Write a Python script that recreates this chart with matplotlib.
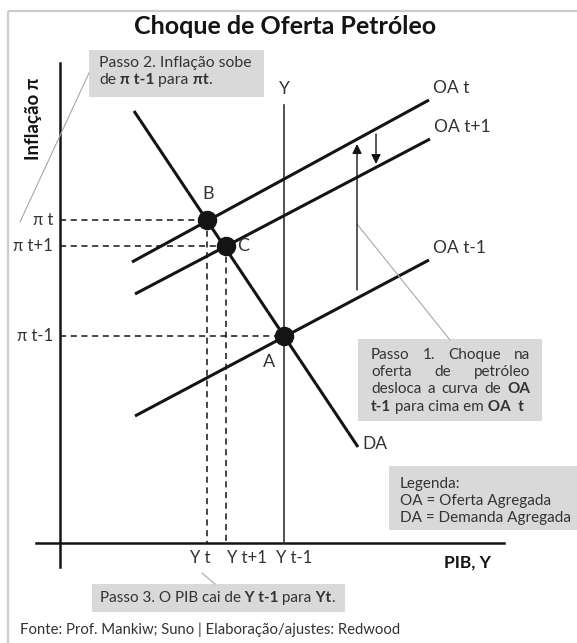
import matplotlib
matplotlib.use("Agg")
import matplotlib.pyplot as plt
from matplotlib.patches import Rectangle
from matplotlib.offsetbox import TextArea, HPacker, VPacker, AnnotationBbox

plt.rcParams['font.family'] = ['Lato', 'DejaVu Sans']

INK = '#141414'
TXT = '#333333'
BOX = '#d9d9d9'
LEAD = '#a8a8a8'

# diagram units: pixels measured from the bottom-left corner of the picture
output_labels = ['Y t', 'Y t+1', 'Y t-1']
output_levels = [207, 226, 284]
inflation_labels = ['π t', 'π t+1', 'π t-1']
inflation_levels = [423, 397, 307]
point_names = ['B', 'C', 'A']

da_x = [134, 358]
da_y = [532, 196]

oa_names = ['OA t', 'OA t+1', 'OA t-1']
oa_x = [[132, 429], [135, 430], [135, 429]]
oa_y = [[381, 543], [349, 504], [227, 383]]

x_axis_level = 100


def rich_line(parts, size, width=None):
    areas = [TextArea(t, textprops=dict(fontsize=size, color=TXT,
                                        fontweight='bold' if b else 'normal'))
             for t, b in parts]
    if width:
        return HPacker(children=areas, pad=0, sep=0, width=width,
                       mode='expand', align='baseline')
    return HPacker(children=areas, pad=0, sep=0, align='baseline')


def text_block(ax, lines, xy, sep=0, align=(0, 1)):
    vp = VPacker(children=lines, pad=0, sep=sep, align='left')
    ab = AnnotationBbox(vp, xy, xycoords='data', box_alignment=align,
                        frameon=False, pad=0)
    ax.add_artist(ab)


fig = plt.figure(figsize=(5.77, 6.43), dpi=100)
ax = fig.add_axes([0, 0, 1, 1])
ax.set_xlim(0, 577)
ax.set_ylim(0, 643)
ax.axis('off')

# outer frame (top and left only)
ax.plot([8, 577], [632, 632], color='#cccccc', lw=1.6, solid_capstyle='butt')
ax.plot([8, 8], [0, 632], color='#cccccc', lw=1.6, solid_capstyle='butt')

ax.text(285, 616, 'Choque de Oferta Petróleo', ha='center', va='center',
        fontsize=18, fontweight='bold', color=INK)

# axes of the diagram
ax.plot([60, 60], [76, 580], color=INK, lw=1.8)
ax.plot([36, 504], [x_axis_level, x_axis_level], color=INK, lw=1.8)
ax.text(33, 524, 'Inflação π', rotation=90, ha='center', va='center',
        fontsize=13.5, fontweight='bold', color=INK)
ax.text(468, 80, 'PIB, Y', ha='center', va='center',
        fontsize=12.5, fontweight='bold', color=INK)

# long-run output line
ax.plot([output_levels[2]] * 2, [x_axis_level, 538], color='#333333', lw=1.2)
ax.text(output_levels[2], 554, 'Y', ha='center', va='center', fontsize=12.5, color=TXT)

# dashed guides
for i, (xv, yv) in enumerate(zip(output_levels, inflation_levels)):
    ax.plot([60, xv], [yv, yv], color=INK, lw=1.1, ls=(0, (4, 3)))
    if i < 2:
        ax.plot([xv, xv], [yv, x_axis_level], color=INK, lw=1.1, ls=(0, (4, 3)))

# curves
ax.plot(da_x, da_y, color=INK, lw=2.2, solid_capstyle='butt')
ax.text(da_x[1] + 4, da_y[1] + 3, 'DA', ha='left', va='center', fontsize=12.5, color=TXT)
for name, xs, ys in zip(oa_names, oa_x, oa_y):
    ax.plot(xs, ys, color=INK, lw=2.2, solid_capstyle='butt')
    ax.text(xs[1] + 4, ys[1] + 12, name, ha='left', va='center',
            fontsize=12.5, color=TXT)

# equilibrium points
ax.plot(output_levels, inflation_levels, 'o', ms=13, color=INK)
label_offsets = [(1, 26), (17, 0), (-15, -26)]
for name, xv, yv, (dx, dy) in zip(point_names, output_levels, inflation_levels, label_offsets):
    ax.text(xv + dx, yv + dy, name, ha='center', va='center', fontsize=13, color=TXT)

# tick labels
for lab, yv in zip(inflation_labels, inflation_levels):
    ax.text(53, yv, lab, ha='right', va='center', fontsize=12, color=TXT)
for lab, x0 in zip(output_labels, [190, 227, 276]):
    ax.text(x0, 85, lab, ha='left', va='center', fontsize=12, color=TXT)

# shift arrows
ax.annotate('', xy=(357, 499), xytext=(357, 353),
            arrowprops=dict(arrowstyle='-|>', color=INK, lw=1.0,
                            mutation_scale=14, shrinkA=0, shrinkB=0))
ax.annotate('', xy=(376, 479), xytext=(376, 509),
            arrowprops=dict(arrowstyle='-|>', color=INK, lw=1.0,
                            mutation_scale=14, shrinkA=0, shrinkB=0))

# leader lines
ax.plot([89, 20], [570, 421], color=LEAD, lw=0.8)
ax.plot([357, 450], [419, 303], color=LEAD, lw=0.8)
ax.plot([202, 215], [70, 59], color=LEAD, lw=0.8)

# grey note boxes
for x0, y0, w, h in [(89, 546, 175, 47), (358, 222, 184, 82),
                     (389, 113, 188, 64), (92, 31, 253, 28)]:
    ax.add_patch(Rectangle((x0, y0), w, h, facecolor=BOX, edgecolor='none'))

fs = 11
text_block(ax, [
    rich_line([('Passo 2. Inflação sobe', False)], 11.3),
    rich_line([('de', False), (' π t-1', True), (' para', False), (' πt', True), ('.', False)], 11.3),
], (99, 587), sep=2.3)

text_block(ax, [
    rich_line([('Passo', False), ('1.', False), ('Choque', False), ('na', False)], fs, 159),
    rich_line([('oferta', False), ('de', False), ('petróleo', False)], fs, 159),
    rich_line([('desloca', False), ('a', False), ('curva', False), ('de', False), ('OA', True)], fs, 159),
    rich_line([('t-1', True), (' para cima em', False), (' OA  t', True)], fs),
], (371, 295), sep=2.3)

text_block(ax, [
    rich_line([('Legenda:', False)], 11),
    rich_line([('OA = Oferta Agregada', False)], 11),
    rich_line([('DA = Demanda Agregada', False)], 11),
], (400, 166), sep=2.2)

text_block(ax, [
    rich_line([('Passo 3. O PIB cai de', False), (' Y t-1', True), (' para', False),
               (' Yt', True), ('.', False)], fs),
], (100, 45), align=(0, 0.5))

ax.text(20, 13, 'Fonte: Prof. Mankiw; Suno | Elaboração/ajustes: Redwood',
        ha='left', va='center', fontsize=10.7, color=TXT)

fig.savefig('out.png', dpi=100)
